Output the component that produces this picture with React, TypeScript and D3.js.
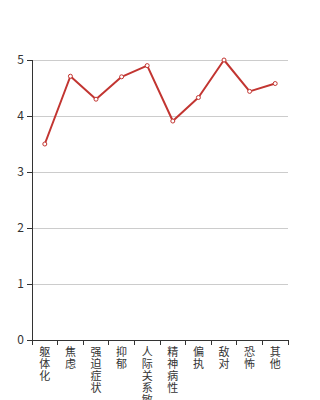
import React from "react";
import * as d3 from "d3";

const categories = ["躯体化", "焦虑", "强迫症状", "抑郁", "人际关系敏感", "精神病性", "偏执", "敌对", "恐怖", "其他"];
const values = [3.5, 4.71, 4.3, 4.7, 4.9, 3.91, 4.33, 5.0, 4.44, 4.58];
const yTicks = [0, 1, 2, 3, 4, 5];

export default function App() {
  const W = 320, H = 400;
  const left = 32, right = 288, top = 60, bottom = 340;
  const x = d3.scaleBand<string>().domain(categories).range([left, right]);
  const y = d3.scaleLinear().domain([0, 5]).range([bottom, top]);
  const line = d3.line<number>().x((_, i) => x(categories[i])! + x.bandwidth() / 2).y((d) => y(d));
  const boundaries = categories.map((c) => x(c)!).concat([right]);
  const font = "'Noto Sans CJK SC', 'DejaVu Sans', sans-serif";
  return (
    <svg width={W} height={H} style={{ position: "absolute", left: 0, top: 0 }} fontFamily={font}>
      {yTicks.filter((t) => t > 0).map((t) => (
        <line key={"g" + t} x1={left} x2={right} y1={y(t)} y2={y(t)} stroke="#ccc" strokeWidth={1} shapeRendering="crispEdges" />
      ))}
      <line x1={left} x2={left} y1={top} y2={bottom} stroke="#333" shapeRendering="crispEdges" />
      <line x1={left} x2={right} y1={bottom} y2={bottom} stroke="#333" shapeRendering="crispEdges" />
      {yTicks.map((t) => (
        <g key={"y" + t}>
          <line x1={left - 5} x2={left} y1={y(t)} y2={y(t)} stroke="#333" shapeRendering="crispEdges" />
          <text x={left - 8} y={y(t)} dy="0.35em" textAnchor="end" fontSize={12} fill="#333">{t}</text>
        </g>
      ))}
      {boundaries.map((b, i) => (
        <line key={"xt" + i} x1={b} x2={b} y1={bottom} y2={bottom + 5} stroke="#333" shapeRendering="crispEdges" />
      ))}
      {categories.map((c) => (
        <text key={c} x={x(c)! + x.bandwidth() / 2} y={bottom + 12} textAnchor="middle" fontSize={11} fill="#333">
          {c.split("").map((ch, j) => (
            <tspan key={j} x={x(c)! + x.bandwidth() / 2} dy={j === 0 ? "0.35em" : 12}>{ch}</tspan>
          ))}
        </text>
      ))}
      <path d={line(values)!} fill="none" stroke="#c23531" strokeWidth={2} strokeLinejoin="round" />
      {values.map((v, i) => (
        <circle key={i} cx={x(categories[i])! + x.bandwidth() / 2} cy={y(v)} r={2} fill="#fff" stroke="#c23531" strokeWidth={1} />
      ))}
    </svg>
  );
}
